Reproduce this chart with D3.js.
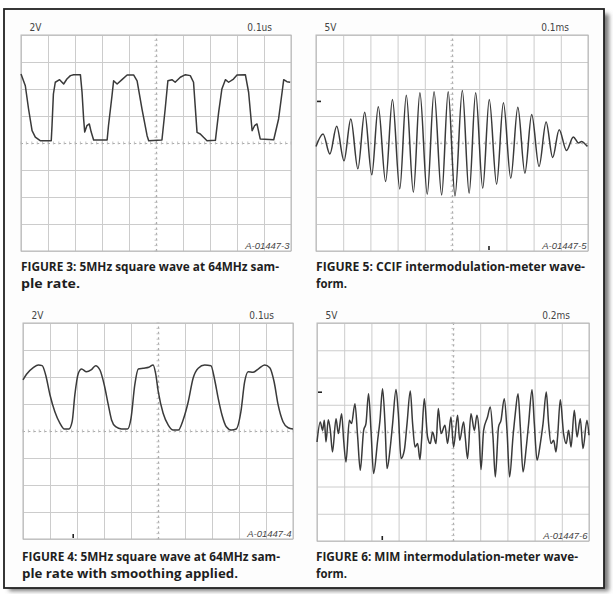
<!DOCTYPE html>
<html><head><meta charset="utf-8">
<script src="https://cdn.jsdelivr.net/npm/d3@7"></script>
<style>body{margin:0;background:#fff}svg{display:block}</style>
</head><body><svg id="c" width="613" height="594"></svg>
<script>
// ---------- DATA (time, volts) ----------
// Figure 3: 5MHz square wave, 64MHz sample rate (time in us, volts)
const fig3T = [0,0.016,0.028,0.041,0.053,0.071,0.112,0.115,0.120,0.127,0.143,0.158,0.170,0.183,0.195,0.220,0.226,0.232,0.236,0.244,0.253,0.260,0.269,0.319,0.324,0.337,0.343,0.356,0.374,0.393,0.417,0.430,0.448,0.467,0.473,0.522,0.534,0.544,0.559,0.571,0.590,0.609,0.627,0.639,0.652,0.664,0.676,0.689,0.720,0.732,0.744,0.757,0.769,0.787,0.800,0.831,0.843,0.856,0.865,0.874,0.886,0.936,0.954,0.967,0.973,0.985,0.997];
const fig3V = [5.11,4.24,2.52,0.91,0.44,0.17,0.17,1.33,3.63,4.50,4.69,4.37,4.74,4.99,5.06,5.06,3.78,1.78,0.81,1.28,1.41,0.81,0.22,0.22,1.28,3.50,4.61,4.37,4.69,5.04,5.04,4.61,2.52,0.54,0.17,0.22,2.52,4.61,4.69,4.50,4.87,5.06,4.99,4.50,0.79,0.67,0.42,0.17,0.20,2.27,4.00,4.69,4.50,4.74,5.04,5.06,3.76,0.91,1.28,1.41,0.30,0.24,1.78,3.76,4.69,4.54,4.50];
// Figure 5: CCIF intermodulation-meter waveform (time in ms, volts)
const fig5T = [0,0.026,0.051,0.076,0.103,0.128,0.154,0.179,0.205,0.229,0.256,0.281,0.308,0.332,0.358,0.382,0.409,0.434,0.462,0.486,0.511,0.538,0.563,0.587,0.613,0.637,0.664,0.689,0.716,0.742,0.768,0.793,0.820,0.846,0.870,0.894,0.921,0.946,0.965,0.977,0.989,0.998];
const fig5V = [-0.63,1.67,-2.04,3.09,-3.29,4.46,-4.78,5.69,-5.89,6.69,-7.14,8.05,-8.50,8.85,-9.11,9.30,-9.48,9.48,-9.61,9.48,-9.80,9.72,-9.30,9.30,-8.37,8.05,-7.62,7.44,-6.51,6.62,-5.58,5.26,-4.35,3.90,-2.68,2.47,-1.38,1.12,0,0.30,-0.19,-0.63];
// Figure 4: same square wave with smoothing (time in us, volts)
const fig4T = [0,0.013,0.038,0.057,0.071,0.084,0.100,0.118,0.137,0.153,0.170,0.182,0.192,0.205,0.217,0.235,0.252,0.269,0.285,0.301,0.316,0.328,0.343,0.365,0.387,0.400,0.414,0.427,0.445,0.466,0.482,0.491,0.501,0.519,0.538,0.556,0.575,0.593,0.612,0.630,0.649,0.673,0.696,0.710,0.723,0.737,0.753,0.772,0.790,0.807,0.821,0.834,0.852,0.871,0.895,0.914,0.930,0.945,0.963,0.982,1.0];
const fig4V = [3.78,4.20,4.69,4.89,4.84,4.15,2.67,1.43,0.57,0.15,0.15,0.69,2.67,4.28,4.59,4.39,4.52,4.84,4.52,3.41,1.93,0.82,0.32,0.15,0.15,0.94,3.41,4.59,4.65,4.72,4.89,4.28,2.91,1.31,0.44,0.07,0.07,0.82,2.17,3.91,4.65,4.89,4.84,3.78,2.42,1.19,0.32,0.07,0.15,1.43,3.65,4.39,4.35,4.59,4.89,4.69,3.65,1.93,0.69,0.24,0.15];
// Figure 6: MIM intermodulation-meter waveform (time in ms, volts)
const fig6T = [0,0.024,0.041,0.054,0.066,0.083,0.098,0.114,0.140,0.157,0.181,0.196,0.213,0.238,0.254,0.279,0.299,0.318,0.343,0.360,0.379,0.397,0.416,0.446,0.463,0.482,0.500,0.515,0.539,0.556,0.581,0.598,0.618,0.642,0.662,0.686,0.703,0.721,0.740,0.757,0.769,0.789,0.813,0.833,0.850,0.875,0.892,0.912,0.941,0.960,0.985,1.004,1.034,1.049,1.078,1.090,1.107,1.132,1.157,1.176,1.191,1.206,1.225,1.254,1.274,1.294,1.311,1.335,1.353,1.377,1.397,1.416,1.441,1.458,1.478,1.495,1.515,1.539,1.556,1.581,1.598,1.618,1.642,1.662,1.686,1.703,1.721,1.740,1.757,1.769,1.789,1.813,1.833,1.850,1.868,1.892,1.912,1.936,1.956,1.985,2.0];
const fig6V = [-1.83,1.83,0.31,2.14,-1.83,2.27,0.31,-3.66,2.45,-0.29,3.37,-1.52,-5.50,2.14,1.54,5.20,-0.92,-7.02,0.31,1.54,7.03,0.31,-7.62,-1.52,2.14,7.95,1.54,-6.71,-2.75,1.54,7.82,3.37,-4.87,-3.35,1.54,7.51,1.54,-2.75,-2.13,-5.06,-1.52,6.12,-0.92,-2.13,0,-2.13,4.29,-0.29,1.23,-2.13,2.75,-2.75,3.06,-1.52,1.83,-0.92,-4.87,3.37,0.31,3.06,0.31,-6.89,0.31,2.75,4.58,-0.92,-8.24,0.92,2.14,6.12,0.31,-8.24,-0.92,3.37,7.03,0.92,-7.33,-2.75,1.54,7.77,1.54,-5.18,-2.13,1.54,7.33,1.54,-2.13,-1.52,-3.66,-0.92,5.94,-0.29,-2.13,0.31,-2.75,3.98,-0.92,2.45,-3.04,2.14,-0.60];

const voltLabels = ["2V", "5V", "2V", "5V"];
const timeLabels = ["0.1us", "0.1ms", "0.1us", "0.2ms"];
const voltsPerDiv = [2, 5, 2, 5];
const timePerDiv = [0.1, 0.1, 0.1, 0.2];
const codes = ["A-01447-3", "A-01447-5", "A-01447-4", "A-01447-6"];
const captions = [
  ["FIGURE 3: 5MHz square wave at 64MHz sam-", "ple rate."],
  ["FIGURE 5: CCIF intermodulation-meter wave-", "form."],
  ["FIGURE 4: 5MHz square wave at 64MHz sam-", "ple rate with smoothing applied."],
  ["FIGURE 6: MIM intermodulation-meter wave-", "form."]
];
// trigger markers (level in volts, time) — null if not shown
const trigLevel = [null, 7.7, null, 7.3];
const trigTime = [null, 0.636, 0.186, 0.48];

const series = [d3.zip(fig3T, fig3V), d3.zip(fig5T, fig5V), d3.zip(fig4T, fig4V), d3.zip(fig6T, fig6V)];

// ---------- LAYOUT ----------
const layout = [
  {x: 21, y: 35, w: 270, h: 216, capX: 21, capY: 271, capW: [258, 59], curve: d3.curveLinear},
  {x: 316, y: 35, w: 272, h: 216, capX: 316, capY: 271, capW: [269, 31], curve: d3.curveMonotoneX},
  {x: 23, y: 323, w: 270, h: 216, capX: 22, capY: 561, capW: [258, 216], curve: d3.curveMonotoneX},
  {x: 317, y: 323, w: 272, h: 218, capX: 316, capY: 561, capW: [262, 31], curve: d3.curveMonotoneX}
];

const svg = d3.select("#c");
const defs = svg.append("defs");
defs.append("filter").attr("id", "blur").attr("x", "-5%").attr("y", "-5%").attr("width", "110%").attr("height", "110%")
  .append("feGaussianBlur").attr("stdDeviation", 2.2);

// frame with drop shadow
svg.append("rect").attr("x", 9).attr("y", 14).attr("width", 600).attr("height", 577)
  .attr("fill", "#7a7a7a").attr("filter", "url(#blur)");
svg.append("rect").attr("x", 4).attr("y", 9).attr("width", 600).attr("height", 579)
  .attr("fill", "#fdfdfd").attr("stroke", "#222").attr("stroke-width", 1.8);

layout.forEach((L, i) => {
  const tMax = timePerDiv[i] * 10, vMax = voltsPerDiv[i] * 4;
  const x = d3.scaleLinear().domain([0, tMax]).range([L.x, L.x + L.w]);
  const y = d3.scaleLinear().domain([-vMax, vMax]).range([L.y + L.h, L.y]);
  const g = svg.append("g");

  g.append("rect").attr("x", L.x).attr("y", L.y).attr("width", L.w).attr("height", L.h)
    .attr("fill", "#fff");

  // grid via axes
  const gridT = d3.range(0, 11).map(k => k * timePerDiv[i]);
  const gridV = d3.range(-4, 5).map(k => k * voltsPerDiv[i]);
  const gx = g.append("g").attr("transform", `translate(0,${L.y + L.h})`)
    .call(d3.axisBottom(x).tickValues(gridT).tickSize(-L.h).tickFormat(""));
  const gy = g.append("g").attr("transform", `translate(${L.x},0)`)
    .call(d3.axisLeft(y).tickValues(gridV).tickSize(-L.w).tickFormat(""));
  [gx, gy].forEach(a => {
    a.select(".domain").remove();
    a.selectAll(".tick line").attr("stroke", "#cccccc").attr("stroke-width", 1);
  });
  // highlight the centre lines as dotted graticule
  gx.selectAll(".tick").filter(d => Math.abs(d - tMax / 2) < 1e-9).select("line")
    .attr("stroke", "#aaa").attr("stroke-dasharray", "2,3.4").attr("stroke-width", 1.2);
  gy.selectAll(".tick").filter(d => Math.abs(d) < 1e-9).select("line")
    .attr("stroke", "#aaa").attr("stroke-dasharray", "2,3.4").attr("stroke-width", 1.2);

  // minor ticks on centre lines
  const minorT = d3.range(0, 51).map(k => k * timePerDiv[i] / 5);
  const minorV = d3.range(-20, 21).map(k => k * voltsPerDiv[i] / 5);
  g.append("g").selectAll("line").data(minorT).join("line")
    .attr("x1", d => x(d)).attr("x2", d => x(d)).attr("y1", y(0) - 1.5).attr("y2", y(0) + 1.5)
    .attr("stroke", "#b5b5b5").attr("stroke-width", 0.8);
  g.append("g").selectAll("line").data(minorV).join("line")
    .attr("y1", d => y(d)).attr("y2", d => y(d)).attr("x1", x(tMax / 2) - 1.5).attr("x2", x(tMax / 2) + 1.5)
    .attr("stroke", "#b5b5b5").attr("stroke-width", 0.8);

  g.append("rect").attr("x", L.x).attr("y", L.y).attr("width", L.w).attr("height", L.h)
    .attr("fill", "none").attr("stroke", "#b8b8b8").attr("stroke-width", 1);

  // waveform
  const line = d3.line().x(d => x(d[0])).y(d => y(d[1])).curve(L.curve);
  g.append("path").datum(series[i]).attr("d", line)
    .attr("fill", "none").attr("stroke", "#3a3a3a").attr("stroke-width", 1.5)
    .attr("stroke-linejoin", "round");

  // trigger markers
  if (trigLevel[i] !== null) {
    g.append("line").attr("x1", L.x + 1).attr("x2", L.x + 5).attr("y1", y(trigLevel[i])).attr("y2", y(trigLevel[i]))
      .attr("stroke", "#222").attr("stroke-width", 1.6);
  }
  if (trigTime[i] !== null) {
    g.append("line").attr("x1", x(trigTime[i])).attr("x2", x(trigTime[i])).attr("y1", L.y + L.h - 5).attr("y2", L.y + L.h - 1)
      .attr("stroke", "#222").attr("stroke-width", 1.6);
  }

  // scale labels
  const lf = "'Liberation Sans Narrow','DejaVu Sans Condensed','Roboto Condensed',sans-serif";
  g.append("text").attr("x", L.x + 8.5).attr("y", L.y - 4.5).text(voltLabels[i])
    .attr("font-family", lf).attr("font-size", 10).attr("fill", "#444");
  g.append("text").attr("x", L.x + L.w - 19).attr("y", L.y - 4.5).attr("text-anchor", "end").text(timeLabels[i])
    .attr("font-family", lf).attr("font-size", 10).attr("fill", "#444");

  // figure code
  g.append("text").attr("x", L.x + L.w - 1.5).attr("y", L.y + L.h - 2).attr("text-anchor", "end")
    .text(codes[i]).attr("font-family", "'Liberation Sans',Arial,sans-serif").attr("font-style", "italic")
    .attr("font-size", 9.5).attr("fill", "#444");

  // caption
  captions[i].forEach((c, j) => {
    svg.append("text").attr("x", L.capX).attr("y", L.capY + j * 16.5).text(c)
      .attr("font-family", "'Open Sans','Noto Sans',sans-serif").attr("font-weight", 700)
      .attr("font-size", 12.5).attr("fill", "#1e1e1e")
      .attr("textLength", L.capW[j]).attr("lengthAdjust", "spacingAndGlyphs");
  });
});
</script></body></html>
